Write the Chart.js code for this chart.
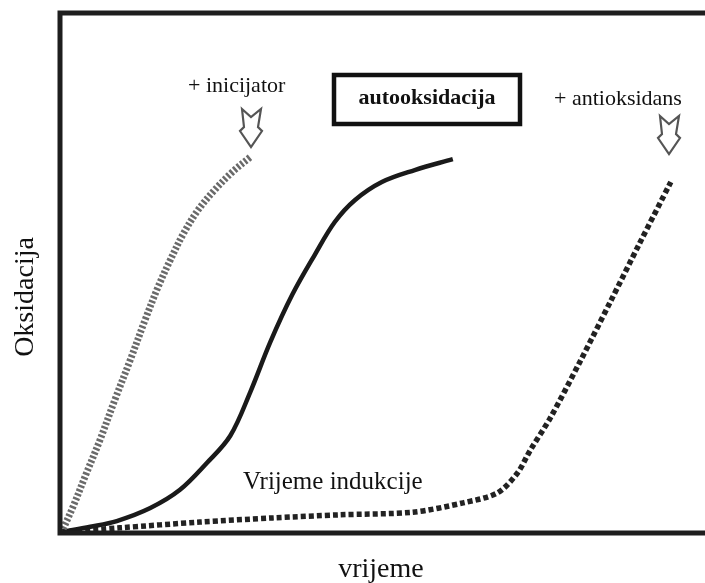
<!DOCTYPE html>
<html>
<head>
<meta charset="utf-8">
<script src="https://cdn.jsdelivr.net/npm/chart.js@4/dist/chart.umd.min.js"></script>
<style>
html,body{margin:0;padding:0;background:#fff;}
canvas{display:block;}
</style>
</head>
<body>
<canvas id="c" width="705" height="583"></canvas>
<script>
// Data (0-100 relative units for time and oxidation)
const initiatorX = [0.2, 2.0, 4.0, 6.2, 8.5, 10.9, 13.2, 15.2, 17.1, 19.1, 21.4, 24.0, 26.7, 29.5];
const initiatorY = [0, 5.0, 11.2, 17.9, 25.6, 33.3, 41.0, 47.3, 52.5, 57.5, 62.1, 66.0, 69.4, 72.3];

const autoxX = [0.2, 4.7, 8.8, 14.0, 18.6, 22.8, 26.4, 29.5, 32.6, 36.0, 39.5, 42.6, 45.7, 49.9, 55.0, 60.9];
const autoxY = [0.2, 1.2, 2.3, 4.8, 8.3, 13.5, 18.7, 27.1, 36.7, 45.8, 53.5, 59.8, 64.0, 67.5, 69.8, 71.9];

const antioxX = [0.2, 9.3, 21.7, 33.0, 43.4, 54.7, 62.5, 67.8, 70.9, 72.9, 76.0, 80.6, 85.3, 89.9, 94.7];
const antioxY = [0.2, 1.0, 2.1, 2.9, 3.5, 4.0, 5.8, 7.7, 11.5, 15.9, 22.1, 32.9, 44.4, 55.8, 67.5];

const labels = {
  initiator: "+ inicijator",
  autox: "autooksidacija",
  antiox: "+ antioksidans",
  induction: "Vrijeme indukcije",
  xTitle: "vrijeme",
  yTitle: "Oksidacija"
};

function pts(xs, ys){ return xs.map((x,i)=>({x:x, y:ys[i]})); }

function drawArrow(ctx, cx, top){
  ctx.save();
  ctx.beginPath();
  ctx.moveTo(cx-9, top);
  ctx.lineTo(cx, top+8);
  ctx.lineTo(cx+10, top);
  ctx.lineTo(cx+7, top+18);
  ctx.lineTo(cx+11, top+22);
  ctx.lineTo(cx, top+38);
  ctx.lineTo(cx-11, top+22);
  ctx.lineTo(cx-7, top+18);
  ctx.closePath();
  ctx.fillStyle = '#fff';
  ctx.fill();
  ctx.lineWidth = 2.2;
  ctx.strokeStyle = '#555';
  ctx.lineJoin = 'miter';
  ctx.stroke();
  ctx.restore();
}

const decor = {
  id: 'decor',
  beforeDatasetsDraw(chart){
    const ctx = chart.ctx;
    ctx.save();
    ctx.fillStyle = '#111';
    ctx.textBaseline = 'alphabetic';
    ctx.font = '22px "Liberation Serif"';
    ctx.textAlign = 'left';
    ctx.fillText(labels.initiator, 188, 92);
    ctx.fillText(labels.antiox, 554, 105);
    ctx.font = '25px "Liberation Serif"';
    ctx.fillText(labels.induction, 243, 489);
    ctx.font = '28px "Liberation Serif"';
    ctx.textAlign = 'center';
    ctx.fillText(labels.xTitle, 381, 577);
    ctx.save();
    ctx.translate(33, 297);
    ctx.rotate(-Math.PI/2);
    ctx.fillText(labels.yTitle, 0, 0);
    ctx.restore();
    // box label
    ctx.lineWidth = 4.5;
    ctx.strokeStyle = '#111';
    ctx.strokeRect(334, 75, 186, 49);
    ctx.font = 'bold 22px "Liberation Serif"';
    ctx.textAlign = 'center';
    ctx.fillText(labels.autox, 427, 104);
    ctx.restore();
    drawArrow(ctx, 251, 109);
    drawArrow(ctx, 669, 116);
  },
  afterDatasetsDraw(chart){
    const {ctx, chartArea:a} = chart;
    ctx.save();
    ctx.strokeStyle = '#1e1e1e';
    ctx.lineWidth = 5;
    ctx.lineCap = 'square';
    ctx.beginPath();
    ctx.moveTo(a.right + 5, a.top);
    ctx.lineTo(a.left, a.top);
    ctx.lineTo(a.left, a.bottom);
    ctx.lineTo(a.right + 5, a.bottom);
    ctx.stroke();
    ctx.restore();
  }
};

new Chart(document.getElementById('c'), {
  type: 'line',
  data: {
    datasets: [
      {
        label: 'inicijator',
        data: pts(initiatorX, initiatorY),
        borderColor: '#6a6a6a',
        borderWidth: 7,
        borderDash: [2.5, 2],
        pointRadius: 0,
        tension: 0.35,
        clip: false
      },
      {
        label: 'autooksidacija',
        data: pts(autoxX, autoxY),
        borderColor: '#1a1a1a',
        borderWidth: 4.5,
        pointRadius: 0,
        tension: 0.35,
        clip: false
      },
      {
        label: 'antioksidans',
        data: pts(antioxX, antioxY),
        borderColor: '#222',
        borderWidth: 5.5,
        borderDash: [5, 3],
        pointRadius: 0,
        tension: 0.3,
        clip: false
      }
    ]
  },
  options: {
    responsive: false,
    animation: false,
    devicePixelRatio: 1,
    layout: { padding: { left: 60, top: 13, right: 0, bottom: 50 } },
    plugins: { legend: { display: false }, tooltip: { enabled: false } },
    scales: {
      x: { type: 'linear', min: 0, max: 100, display: false },
      y: { type: 'linear', min: 0, max: 100, display: false }
    }
  },
  plugins: [decor]
});
</script>
</body>
</html>
